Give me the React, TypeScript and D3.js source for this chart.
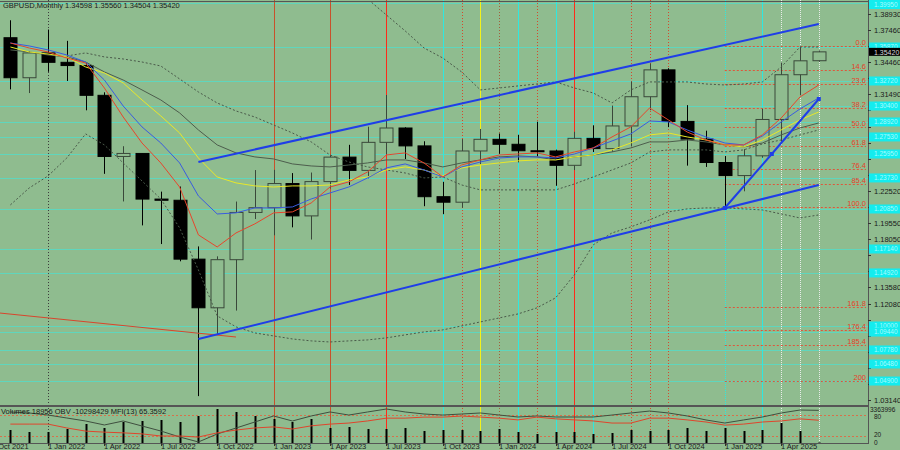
import React from "react";
import * as d3 from "d3";

// ---------- DATA ----------
const header = "GBPUSD,Monthly  1.34598 1.35560 1.34504 1.35420";
const months = ["Nov 2021","Dec 2021","Jan 2022","Feb 2022","Mar 2022","Apr 2022","May 2022","Jun 2022","Jul 2022","Aug 2022","Sep 2022","Oct 2022","Nov 2022","Dec 2022","Jan 2023","Feb 2023","Mar 2023","Apr 2023","May 2023","Jun 2023","Jul 2023","Aug 2023","Sep 2023","Oct 2023","Nov 2023","Dec 2023","Jan 2024","Feb 2024","Mar 2024","Apr 2024","May 2024","Jun 2024","Jul 2024","Aug 2024","Sep 2024","Oct 2024","Nov 2024","Dec 2024","Jan 2025","Feb 2025","Mar 2025","Apr 2025","May 2025","Jun 2025"];
const open = [1.3673,1.3302,1.3532,1.3445,1.3415,1.3139,1.2572,1.2600,1.2177,1.2166,1.1620,1.1169,1.1615,1.2053,1.2097,1.2321,1.2021,1.2339,1.2566,1.2443,1.2703,1.2836,1.2670,1.2199,1.2148,1.2623,1.2731,1.2685,1.2625,1.2623,1.2490,1.2740,1.2645,1.2855,1.3126,1.3375,1.2897,1.2733,1.2516,1.2395,1.2578,1.2915,1.3330,1.34598];
const high = [1.3835,1.3548,1.3749,1.3644,1.3437,1.3167,1.2667,1.2599,1.2246,1.2293,1.1738,1.1646,1.2154,1.2446,1.2448,1.2418,1.2423,1.2584,1.2680,1.2848,1.3142,1.2843,1.2713,1.2337,1.2733,1.2827,1.2785,1.2773,1.2894,1.2635,1.2801,1.2861,1.3044,1.3266,1.3434,1.3390,1.3048,1.2811,1.2576,1.2640,1.3014,1.3444,1.3593,1.35560];
const low = [1.3194,1.3160,1.3357,1.3272,1.3000,1.2411,1.2155,1.1933,1.1760,1.1600,1.0350,1.0924,1.1143,1.1992,1.1841,1.1915,1.1802,1.2275,1.2308,1.2369,1.2591,1.2548,1.2111,1.2037,1.2096,1.2500,1.2597,1.2518,1.2575,1.2300,1.2446,1.2613,1.2615,1.2665,1.3001,1.2844,1.2487,1.2475,1.2100,1.2249,1.2560,1.2708,1.3140,1.34504];
const close = [1.3302,1.3532,1.3445,1.3415,1.3139,1.2572,1.2600,1.2177,1.2166,1.1620,1.1169,1.1615,1.2053,1.2097,1.2321,1.2021,1.2339,1.2566,1.2443,1.2703,1.2836,1.2670,1.2199,1.2148,1.2623,1.2731,1.2685,1.2625,1.2623,1.2490,1.2740,1.2645,1.2855,1.3126,1.3375,1.2897,1.2733,1.2516,1.2395,1.2578,1.2915,1.3330,1.3459,1.35420];

const maRed = [1.3624,1.3578,1.3541,1.3485,1.3439,1.3207,1.2938,1.2697,1.2512,1.2289,1.1845,1.1733,1.1863,1.1947,1.2049,1.2058,1.2141,1.2289,1.2336,1.2429,1.2586,1.2605,1.2512,1.2382,1.2493,1.2540,1.2586,1.2595,1.2605,1.2568,1.2614,1.2651,1.2753,1.2846,1.3022,1.2911,1.2799,1.2725,1.2679,1.2679,1.2772,1.2929,1.3124,1.3235];
const maBlue = [1.3624,1.3597,1.3560,1.3513,1.3448,1.3281,1.3040,1.2846,1.2697,1.2512,1.2206,1.2039,1.2049,1.2095,1.2095,1.2104,1.2178,1.2234,1.2289,1.2373,1.2466,1.2503,1.2447,1.2382,1.2475,1.2521,1.2558,1.2568,1.2568,1.2558,1.2595,1.2651,1.2716,1.2781,1.2901,1.2892,1.2818,1.2753,1.2697,1.2679,1.2762,1.2892,1.3013,1.3115];
const maYellow = [1.3587,1.3541,1.3522,1.3495,1.3402,1.3346,1.3254,1.3096,1.2948,1.2790,1.2558,1.2382,1.2327,1.2299,1.2289,1.2299,1.2299,1.2308,1.2354,1.2382,1.2447,1.2475,1.2447,1.2391,1.2466,1.2493,1.2512,1.2531,1.2540,1.2540,1.2568,1.2586,1.2633,1.2697,1.2772,1.2790,1.2753,1.2725,1.2679,1.2660,1.2725,1.2818,1.2911,1.2985];
const maDark = [1.3560,1.3541,1.3513,1.3495,1.3448,1.3356,1.3281,1.3189,1.3096,1.2976,1.2818,1.2679,1.2605,1.2568,1.2549,1.2503,1.2484,1.2475,1.2493,1.2512,1.2540,1.2540,1.2512,1.2475,1.2512,1.2540,1.2568,1.2577,1.2568,1.2540,1.2568,1.2586,1.2614,1.2651,1.2707,1.2707,1.2725,1.2707,1.2679,1.2660,1.2697,1.2772,1.2836,1.2883];
const bandMid = [null,null,null,1.3504,1.3532,1.3495,1.3476,1.3448,1.3411,1.3291,1.3170,1.3068,1.2994,1.2938,1.2864,1.2790,1.2707,1.2586,1.2521,1.2475,1.2447,1.2419,1.2373,1.2382,1.2308,1.2262,1.2262,1.2262,1.2262,1.2262,1.2317,1.2382,1.2447,1.2512,1.2614,1.2633,1.2633,1.2633,1.2614,1.2633,1.2688,1.2725,1.2772,1.2818];
const bandLow = [1.2123,1.2280,1.2391,1.2558,1.2781,1.2679,1.2512,1.2345,1.2178,1.1910,1.1520,1.1094,1.0992,1.0936,1.0908,1.0880,1.0862,1.0852,1.0862,1.0871,1.0890,1.0918,1.0945,1.0964,1.1001,1.1038,1.1075,1.1112,1.1168,1.1261,1.1474,1.1752,1.1863,1.1919,1.1984,1.2058,1.2086,1.2095,1.2095,1.2086,1.2076,1.2039,1.2002,1.2030];
const bandUp = [null,null,null,null,null,null,null,null,null,null,null,null,null,null,null,null,null,null,1.4208,1.4032,1.3884,1.3736,1.3578,1.3485,1.3356,1.3189,1.3207,1.3226,1.3244,1.3263,1.3207,1.3161,1.3068,1.3189,1.3263,1.3263,1.3263,1.3244,1.3235,1.3244,1.3263,1.3402,1.3587,1.3587];
const longRed: [number, number][] = [[-0.6, 1.1121], [12, 1.0898]];

const channelUpper: [number, number][] = [[10, 1.2521], [43, 1.3800]];
const channelLower: [number, number][] = [[10, 1.0880], [43, 1.2307]];
const impulse: [number, number][] = [[38, 1.2094], [40.5, 1.2595], [43, 1.3105]];

const fibLabels = ["0.0","14.6","23.6","38.2","50.0","61.8","76.4","85.4","100.0","161.8","176.4","185.4","200"];
const fibPrices = [1.3593,1.3375,1.3241,1.3023,1.2847,1.2670,1.2452,1.2318,1.2100,1.1177,1.0959,1.0825,1.0490];

const levelPrices = [1.3995,1.3587,1.3272,1.3040,1.2892,1.2753,1.2595,1.2373,1.2085,1.1714,1.1492,1.1000,1.0944,1.0778,1.0648,1.0490];

const priceTicks = ["1.38930","1.37460","1.35960","1.34460","1.32960","1.31490","1.29990","1.28490","1.26990","1.25520","1.24020","1.22520","1.21050","1.19550","1.18050","1.16550","1.15080","1.13580","1.12080","1.10580","1.09110","1.07610","1.06110","1.04610","1.03140"];
const lastPrice = 1.3542;

const timeTickLabels = ["1 Oct 2021","1 Jan 2022","1 Apr 2022","1 Jul 2022","1 Oct 2022","1 Jan 2023","1 Apr 2023","1 Jul 2023","1 Oct 2023","1 Jan 2024","1 Apr 2024","1 Jul 2024","1 Oct 2024","1 Jan 2025","1 Apr 2025"];
const timeTickIndex = [-1,2,5,8,11,14,17,20,23,26,29,32,35,38,41];

const volumes = [390,330,330,420,570,450,630,660,690,630,810,1020,930,810,720,630,720,450,480,420,420,450,360,390,390,360,420,330,270,330,330,270,300,390,360,390,450,360,450,360,390,600,360,19];
const obv = [-12.4,-13.7,-16.3,-20.1,-23.9,-29.0,-23.9,-30.3,-36.7,-44.3,-50.7,-40.5,-32.9,-25.2,-17.5,-23.9,-17.5,-12.4,-16.3,-12.4,-8.6,-12.4,-15.0,-16.3,-15.0,-13.7,-16.3,-18.8,-17.5,-18.8,-18.8,-18.8,-16.3,-13.7,-11.2,-13.7,-17.5,-22.6,-26.5,-22.6,-18.8,-13.7,-9.9,-10.3];
const mfi = [54,54,54,43,34,31,29,26,20,20,17,29,37,43,46,40,49,54,57,63,71,71,74,74,77,74,71,66,74,69,66,63,57,57,71,71,66,60,51,54,60,63,69,65];
const panelText = "Volumes 18956  OBV -10298429  MFI(13) 65.3592";
const panelScaleLabels = ["3363996", "80", "20", "0"];

// vertical marker lines: candle index + kind
const vLineIdx = [2,14,17,20,23,24,25,26,27,28,29,30,31,33,34,35,38,40,41,42,43];
const vLineKind = ["dk","br","br","rd","cy","rdd","ye","brd","cy","rdd","cy","rd","cy","rdd","rdd","rdd","cyd","cy","wh","wh","wh"];

// ---------- STYLE ----------
const BG = "#8fbc8f";
const kindStyle: Record<string, { c: string; d?: string }> = {
  dk: { c: "#3c3c3c", d: "1,2" },
  br: { c: "#c8502c" },
  rd: { c: "#ff2a1a" },
  cy: { c: "#2ee8e0" },
  cyd: { c: "#2ee8e0", d: "1,1" },
  rdd: { c: "#d44a2c", d: "1,2" },
  ye: { c: "#f2f21c" },
  brd: { c: "#a0603c", d: "1,2" },
  wh: { c: "#e8ece8", d: "1,1" },
};

const FONT = "'Liberation Sans', Arial, sans-serif";
const PLOT_R = 868;
const MAIN_TOP = 2, MAIN_BOT = 405;
const PANEL_TOP = 407, PANEL_BOT = 443;

export default function App() {
  const x = d3.scaleLinear().domain([2, 43]).range([48, 818.8]);
  const y = d3.scaleLinear().domain([1.3893, 1.0314]).range([14, 400]);
  const yv = d3.scaleLinear().domain([0, 1080]).range([PANEL_BOT, PANEL_TOP]);
  const ym = d3.scaleLinear().domain([0, 100]).range([PANEL_BOT, 408]);
  const yo = d3.scaleLinear().domain([-52, -8.6]).range([PANEL_BOT, 409]);

  const seriesLine = d3
    .line<number | null>()
    .defined((d) => d != null)
    .x((_, i) => x(i))
    .y((d) => y(d as number));
  const ptLine = d3
    .line<[number, number]>()
    .x((d) => x(d[0]))
    .y((d) => y(d[1]));
  const obvLine = d3.line<number>().x((_, i) => x(i)).y((d) => yo(d));
  const mfiLine = d3.line<number>().x((_, i) => x(i)).y((d) => ym(d));

  const bw = 13;
  const boxYs = [...levelPrices.map((p) => Math.max(4.5, y(p))), y(lastPrice)];
  const visibleTicks = priceTicks.filter((t) => {
    const yy = y(parseFloat(t));
    return boxYs.every((b) => Math.abs(b - yy) > 8.5);
  });

  return (
    <div style={{ position: "fixed", left: 0, top: 0, width: 900, height: 450, overflow: "hidden" }}>
      <svg width={900} height={450} style={{ display: "block" }} fontFamily={FONT}>
        <defs>
          <clipPath id="mainClip">
            <rect x={0} y={MAIN_TOP} width={PLOT_R} height={MAIN_BOT - MAIN_TOP} />
          </clipPath>
          <clipPath id="panelClip">
            <rect x={0} y={PANEL_TOP} width={PLOT_R} height={PANEL_BOT - PANEL_TOP} />
          </clipPath>
        </defs>
        <rect x={0} y={0} width={900} height={450} fill={BG} />

        {/* horizontal levels */}
        <g clipPath="url(#mainClip)">
          {levelPrices.map((p, k) => (
            <line key={k} x1={0} x2={PLOT_R} y1={Math.round(y(p)) + 0.5} y2={Math.round(y(p)) + 0.5} stroke="#5ad8c2" strokeOpacity={0.9} strokeWidth={1} />
          ))}
        </g>

        {/* vertical lines */}
        {vLineIdx.map((idx, k) => {
          const s = kindStyle[vLineKind[k]];
          const xx = Math.round(x(idx)) + 0.5;
          return (
            <line key={k} x1={xx} x2={xx} y1={0} y2={PANEL_BOT} stroke={s.c} strokeWidth={1} strokeDasharray={s.d} />
          );
        })}

        {/* fibonacci levels */}
        <g>
          {fibPrices.map((p, k) => {
            const yy = Math.round(y(p)) + 0.5;
            return (
              <g key={k}>
                <line x1={x(38)} x2={PLOT_R - 2} y1={yy} y2={yy} stroke="#e0553a" strokeDasharray="2,2" strokeWidth={1} />
                <text x={PLOT_R - 2} y={yy - 1.5} textAnchor="end" fontSize={7.5} fill="#e8402a">{fibLabels[k]}</text>
              </g>
            );
          })}
        </g>

        {/* candles */}
        <g clipPath="url(#mainClip)">
          {open.map((o, i) => {
            const c = close[i];
            const bull = c >= o;
            const cx = Math.round(x(i)) + 0.5;
            const top = y(Math.max(o, c));
            const bot = y(Math.min(o, c));
            const col = bull ? "#3a483a" : "#000";
            return (
              <g key={months[i]}>
                <line x1={cx} x2={cx} y1={y(high[i])} y2={y(low[i])} stroke={col} strokeWidth={1} />
                <rect
                  x={cx - bw / 2}
                  y={top}
                  width={bw}
                  height={Math.max(1, bot - top)}
                  fill={bull ? BG : "#000"}
                  stroke={col}
                  strokeWidth={1}
                />
              </g>
            );
          })}
        </g>

        {/* bands and moving averages */}
        <g clipPath="url(#mainClip)" fill="none">
          <path d={ptLine(longRed) || ""} stroke="#d8452c" strokeWidth={1} />
          <path d={seriesLine(bandUp) || ""} stroke="#4a5a4a" strokeDasharray="2,2" strokeWidth={1} />
          <path d={seriesLine(bandMid) || ""} stroke="#4a5a4a" strokeDasharray="2,2" strokeWidth={1} />
          <path d={seriesLine(bandLow) || ""} stroke="#4a5a4a" strokeDasharray="2,2" strokeWidth={1} />
          <path d={seriesLine(maDark) || ""} stroke="#4d5d4d" strokeWidth={1} />
          <path d={seriesLine(maYellow) || ""} stroke="#e8e82a" strokeWidth={1} />
          <path d={seriesLine(maBlue) || ""} stroke="#3a5ce0" strokeWidth={1} />
          <path d={seriesLine(maRed) || ""} stroke="#e8452c" strokeWidth={1} />
          <path d={ptLine(channelUpper) || ""} stroke="#1f3ee8" strokeWidth={2} />
          <path d={ptLine(channelLower) || ""} stroke="#1f3ee8" strokeWidth={2} />
          <path d={ptLine(impulse) || ""} stroke="#1f3ee8" strokeWidth={2} />
          {impulse.map((d, k) => (
            <rect key={k} x={x(d[0]) - 2} y={y(d[1]) - 2} width={4} height={4} fill="#1f3ee8" />
          ))}
        </g>

        {/* header */}
        <text x={3} y={8} fontSize={7.5} fill="#1a1a1a">{header}</text>

        {/* frame */}
        <line x1={0} x2={PLOT_R} y1={MAIN_TOP - 0.5} y2={MAIN_TOP - 0.5} stroke="#555" />
        <line x1={0} x2={PLOT_R} y1={MAIN_BOT + 0.5} y2={MAIN_BOT + 0.5} stroke="#555" />
        <line x1={0} x2={PLOT_R} y1={PANEL_TOP - 0.5} y2={PANEL_TOP - 0.5} stroke="#555" />
        <line x1={0} x2={PLOT_R} y1={PANEL_BOT + 0.5} y2={PANEL_BOT + 0.5} stroke="#555" />
        <line x1={PLOT_R + 0.5} x2={PLOT_R + 0.5} y1={0} y2={PANEL_BOT + 1} stroke="#555" />

        {/* right price axis */}
        <g fontSize={7.5} fill="#1a1a1a">
          {priceTicks.map((t, k) => {
            const yy = Math.round(y(parseFloat(t))) + 0.5;
            return <line key={k} x1={PLOT_R} x2={PLOT_R + 3} y1={yy} y2={yy} stroke="#333" />;
          })}
          {visibleTicks.map((t, k) => {
            const yy = Math.round(y(parseFloat(t))) + 0.5;
            return (
              <text key={k} x={PLOT_R + 6} y={yy + 2.7}>{t}</text>
            );
          })}
          {levelPrices.map((p, k) => {
            const yy = Math.max(4.5, y(p));
            return (
              <g key={"l" + k}>
                <rect x={PLOT_R + 1} y={yy - 4.5} width={32} height={9} fill="#14ecee" />
                <text x={PLOT_R + 6} y={yy + 2.2} fontSize={6.5} fill="#a8fbff">{p.toFixed(5)}</text>
              </g>
            );
          })}
          <rect x={PLOT_R + 1} y={y(lastPrice) - 4} width={32} height={8} fill="#000" />
          <text x={PLOT_R + 6} y={y(lastPrice) + 2.8} fontSize={7} fill="#d8d8d8">{lastPrice.toFixed(5)}</text>
        </g>

        {/* indicator panel */}
        <g clipPath="url(#panelClip)">
          {[80, 20].map((v) => (
            <line key={v} x1={0} x2={PLOT_R} y1={Math.round(ym(v)) + 0.5} y2={Math.round(ym(v)) + 0.5} stroke="#d8704a" strokeDasharray="2,2" />
          ))}
          {volumes.map((v, i) => (
            <line key={i} x1={Math.round(x(i)) + 0.5} x2={Math.round(x(i)) + 0.5} y1={PANEL_BOT} y2={yv(v)} stroke="#000" strokeWidth={2} />
          ))}
          <path d={obvLine(obv) || ""} fill="none" stroke="#3f4f3f" strokeWidth={1} />
          <path d={mfiLine(mfi) || ""} fill="none" stroke="#e0452c" strokeWidth={1} />
        </g>
        <text x={1} y={414} fontSize={7.5} fill="#1a1a1a">{panelText}</text>
        <g fontSize={6.5} fill="#1a1a1a">
          <text x={PLOT_R + 2} y={411.5}>{panelScaleLabels[0]}</text>
          <text x={PLOT_R + 6} y={ym(80) + 3.5}>{panelScaleLabels[1]}</text>
          <text x={PLOT_R + 6} y={ym(20) + 1}>{panelScaleLabels[2]}</text>
          <text x={PLOT_R + 6} y={ym(0) + 1.5}>{panelScaleLabels[3]}</text>
        </g>

        {/* time axis */}
        <g fontSize={7.5} fill="#1a1a1a">
          {timeTickLabels.map((t, k) => {
            const xx = Math.round(x(timeTickIndex[k]));
            return (
              <g key={k}>
                <line x1={xx + 0.5} x2={xx + 0.5} y1={PANEL_BOT} y2={PANEL_BOT + 3} stroke="#333" />
                <text x={xx} y={449}>{t}</text>
              </g>
            );
          })}
        </g>
      </svg>
    </div>
  );
}
